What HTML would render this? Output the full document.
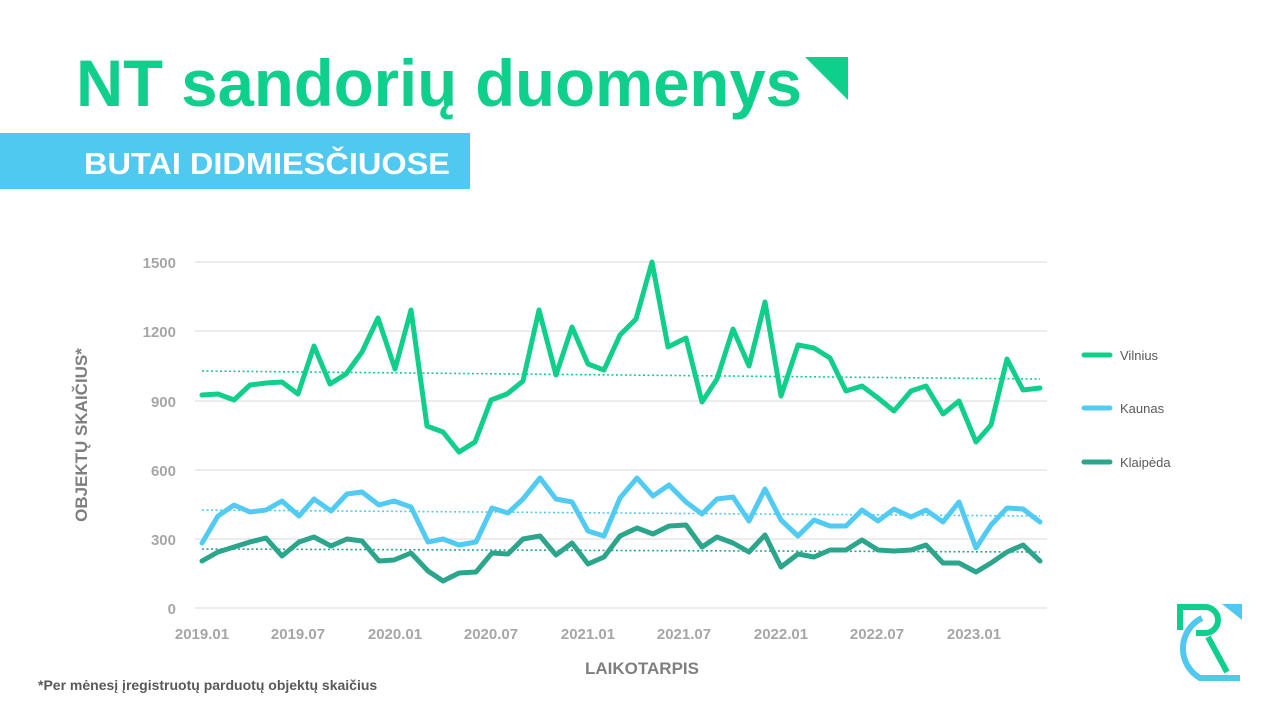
<!DOCTYPE html>
<html><head><meta charset="utf-8"><style>
body{margin:0;width:1280px;height:720px;background:#fff;overflow:hidden;font-family:"Liberation Sans",sans-serif}
</style></head><body>
<svg width="1280" height="720" viewBox="0 0 1280 720" xmlns="http://www.w3.org/2000/svg" style="position:absolute;left:0;top:0">
<text x="76" y="106" font-size="66" font-weight="bold" fill="#0fcf8c" font-family="Liberation Sans,sans-serif" textLength="726" lengthAdjust="spacingAndGlyphs">NT sandorių duomenys</text>
<polygon points="805,57 848,57 848,100" fill="#0fcf8c"/>
<rect x="0" y="133" width="470" height="56" fill="#4fc9f0"/>
<text x="84" y="174" font-size="31" font-weight="bold" fill="#fff" font-family="Liberation Sans,sans-serif" textLength="366" lengthAdjust="spacingAndGlyphs">BUTAI DIDMIESČIUOSE</text>
<g stroke="#d9d9d9" stroke-width="1">
<line x1="195" y1="262" x2="1047" y2="262"/><line x1="195" y1="331" x2="1047" y2="331"/><line x1="195" y1="401" x2="1047" y2="401"/><line x1="195" y1="470" x2="1047" y2="470"/><line x1="195" y1="539" x2="1047" y2="539"/><line x1="195" y1="608" x2="1047" y2="608"/>
</g>
<g font-size="15" font-weight="bold" fill="#a6a6a6" text-anchor="end" font-family="Liberation Sans,sans-serif">
<text x="176" y="268">1500</text><text x="176" y="337">1200</text><text x="176" y="407">900</text><text x="176" y="476">600</text><text x="176" y="545">300</text><text x="176" y="614">0</text>
</g>
<g font-size="15" font-weight="bold" fill="#a6a6a6" text-anchor="middle" font-family="Liberation Sans,sans-serif">
<text x="202" y="639">2019.01</text><text x="298" y="639">2019.07</text><text x="395" y="639">2020.01</text><text x="491" y="639">2020.07</text><text x="588" y="639">2021.01</text><text x="684" y="639">2021.07</text><text x="781" y="639">2022.01</text><text x="877" y="639">2022.07</text><text x="974" y="639">2023.01</text>
</g>
<text x="642" y="674" font-size="17" font-weight="bold" fill="#7f7f7f" text-anchor="middle" font-family="Liberation Sans,sans-serif">LAIKOTARPIS</text>
<text transform="translate(87,435) rotate(-90)" font-size="17" font-weight="bold" fill="#7f7f7f" text-anchor="middle" font-family="Liberation Sans,sans-serif">OBJEKTŲ SKAIČIUS*</text>
<text x="38" y="690" font-size="14" font-weight="bold" fill="#595959" font-family="Liberation Sans,sans-serif">*Per mėnesį įregistruotų parduotų objektų skaičius</text>
<g stroke-width="1.6" stroke-dasharray="2,2.5">
<line x1="202" y1="371" x2="1040" y2="379" stroke="#10cf8b"/>
<line x1="202" y1="510" x2="1040" y2="516" stroke="#52cbf3"/>
<line x1="202" y1="549" x2="1040" y2="552" stroke="#2ba58b"/>
</g>
<g fill="none" stroke-width="5" stroke-linejoin="round" stroke-linecap="round">
<polyline stroke="#10cf8b" points="202,395 218,394 234,400 250,385 266,383 282,382 298,394 314,346 330,384 346,374 362,352 378,318 395,369 411,310 427,426 443,432 459,452 475,442 491,400 507,394 523,381 539,310 556,375 572,327 588,364 604,370 620,335 636,319 652,262 668,347 686,338 702,402 717,379 733,329 749,366 765,302 781,396 798,345 814,348 830,358 846,391 862,386 878,398 894,411 911,391 926,386 943,414 959,401 976,442 991,425 1007,359 1023,390 1040,388"/>
<polyline stroke="#52cbf3" points="202,543 218,516 234,505 250,512 266,510 282,501 299,516 314,499 331,511 347,494 362,492 379,505 394,501 411,507 428,542 443,539 459,545 476,542 492,508 508,513 523,499 540,478 556,499 572,502 588,531 604,536 620,498 637,478 653,496 669,485 686,502 702,514 717,499 733,497 749,521 765,489 781,520 798,536 814,520 830,526 846,526 862,510 878,521 894,509 911,517 926,510 943,522 959,502 976,548 991,525 1007,508 1023,509 1040,522"/>
<polyline stroke="#2ba58b" points="202,561 218,552 234,547 250,542 266,538 282,556 299,542 314,537 331,546 347,539 362,541 379,561 394,560 411,553 428,571 443,581 459,573 476,572 492,553 508,554 523,539 540,536 556,555 572,543 588,564 604,557 620,536 637,528 653,534 669,526 686,525 702,547 717,537 733,543 749,552 765,535 781,567 798,554 814,557 830,550 846,550 862,540 878,550 894,551 911,550 926,545 943,563 959,563 976,572 991,563 1007,552 1023,545 1040,561"/>
<line x1="1084" y1="355" x2="1110" y2="355" stroke="#10cf8b"/>
<line x1="1084" y1="408" x2="1110" y2="408" stroke="#52cbf3"/>
<line x1="1084" y1="462" x2="1110" y2="462" stroke="#2ba58b"/>
</g>
<g font-size="13" fill="#595959" font-family="Liberation Sans,sans-serif">
<text x="1120" y="360">Vilnius</text><text x="1120" y="413">Kaunas</text><text x="1120" y="467">Klaipėda</text>
</g>
<g fill="none" stroke-width="6">
<path d="M1180,630 V607 H1205" stroke="#0fcf8c"/>
<path d="M1205,607 A13,13 0 0 1 1205,633 H1196" stroke="#0fcf8c"/>
<path d="M1208,637 L1227,672" stroke="#0fcf8c"/>
<path d="M1202,618 A34,34 0 0 0 1200,678 H1240" stroke="#4fc9f0"/>
</g>
<polygon points="1222,604 1242,604 1242,620" fill="#4fc9f0"/>
</svg>
</body></html>
